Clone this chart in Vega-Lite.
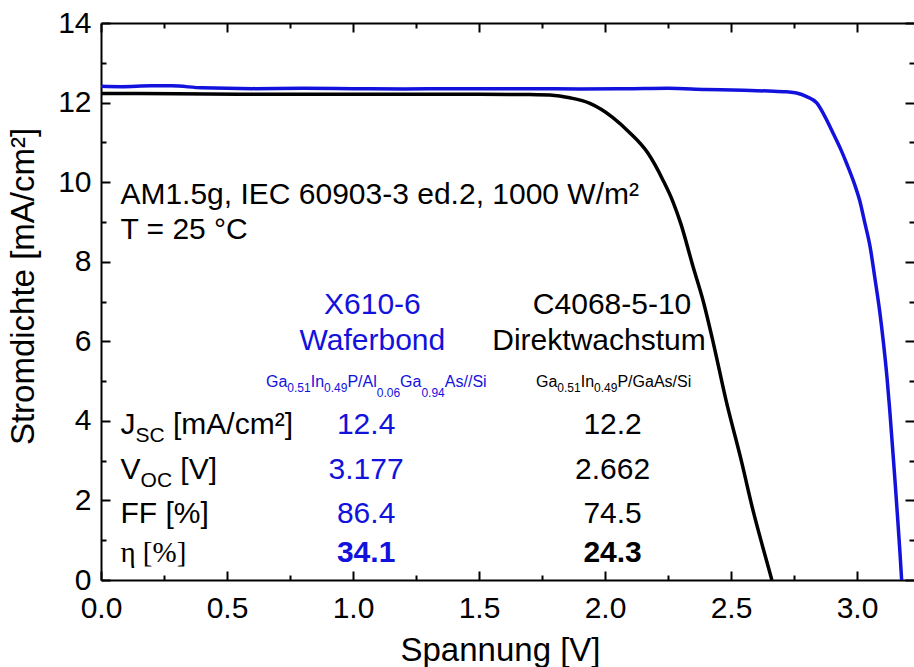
{
  "$schema": "https://vega.github.io/schema/vega-lite/v6.json",
  "width": 813,
  "height": 557,
  "autosize": {"type": "none"},
  "padding": {"left": 101, "top": 23, "right": 0, "bottom": 87},
  "background": "white",
  "config": {
    "view": {"stroke": null},
    "font": "Liberation Sans",
    "axis": {
      "domainColor": "black", "domainWidth": 2, "tickColor": "black", "tickWidth": 2,
      "labelColor": "black", "labelFont": "Liberation Sans", "labelFontSize": 30,
      "titleFont": "Liberation Sans", "titleFontSize": 33, "titleFontWeight": "normal", "titleColor": "black",
      "grid": false, "labelOverlap": false, "labelFlush": false, "labelBound": false
    }
  },
  "resolve": {"axis": {"x": "independent", "y": "independent"}},
  "datasets": {
    "curves": [
      {"sample": "X610-6", "V": 0.00, "J": 12.41},
      {"sample": "X610-6", "V": 0.08, "J": 12.40},
      {"sample": "X610-6", "V": 0.20, "J": 12.42},
      {"sample": "X610-6", "V": 0.28, "J": 12.42},
      {"sample": "X610-6", "V": 0.40, "J": 12.37},
      {"sample": "X610-6", "V": 0.60, "J": 12.35},
      {"sample": "X610-6", "V": 0.80, "J": 12.36},
      {"sample": "X610-6", "V": 1.00, "J": 12.35},
      {"sample": "X610-6", "V": 1.20, "J": 12.34},
      {"sample": "X610-6", "V": 1.40, "J": 12.35},
      {"sample": "X610-6", "V": 1.70, "J": 12.35},
      {"sample": "X610-6", "V": 1.90, "J": 12.34},
      {"sample": "X610-6", "V": 2.10, "J": 12.35},
      {"sample": "X610-6", "V": 2.25, "J": 12.36},
      {"sample": "X610-6", "V": 2.40, "J": 12.33},
      {"sample": "X610-6", "V": 2.55, "J": 12.31},
      {"sample": "X610-6", "V": 2.65, "J": 12.29},
      {"sample": "X610-6", "V": 2.72, "J": 12.27},
      {"sample": "X610-6", "V": 2.76, "J": 12.24},
      {"sample": "X610-6", "V": 2.80, "J": 12.15},
      {"sample": "X610-6", "V": 2.84, "J": 11.99},
      {"sample": "X610-6", "V": 2.87, "J": 11.68},
      {"sample": "X610-6", "V": 2.905, "J": 11.23},
      {"sample": "X610-6", "V": 2.935, "J": 10.83},
      {"sample": "X610-6", "V": 2.96, "J": 10.45},
      {"sample": "X610-6", "V": 2.99, "J": 9.95},
      {"sample": "X610-6", "V": 3.01, "J": 9.55},
      {"sample": "X610-6", "V": 3.03, "J": 9.00},
      {"sample": "X610-6", "V": 3.052, "J": 8.37},
      {"sample": "X610-6", "V": 3.07, "J": 7.62},
      {"sample": "X610-6", "V": 3.09, "J": 6.75},
      {"sample": "X610-6", "V": 3.105, "J": 5.95},
      {"sample": "X610-6", "V": 3.119, "J": 5.08},
      {"sample": "X610-6", "V": 3.13, "J": 4.25},
      {"sample": "X610-6", "V": 3.14, "J": 3.40},
      {"sample": "X610-6", "V": 3.15, "J": 2.55},
      {"sample": "X610-6", "V": 3.16, "J": 1.65},
      {"sample": "X610-6", "V": 3.17, "J": 0.72},
      {"sample": "X610-6", "V": 3.177, "J": 0.00},
      {"sample": "C4068-5-10", "V": 0.00, "J": 12.23},
      {"sample": "C4068-5-10", "V": 0.30, "J": 12.22},
      {"sample": "C4068-5-10", "V": 0.60, "J": 12.21},
      {"sample": "C4068-5-10", "V": 0.90, "J": 12.21},
      {"sample": "C4068-5-10", "V": 1.20, "J": 12.21},
      {"sample": "C4068-5-10", "V": 1.50, "J": 12.21},
      {"sample": "C4068-5-10", "V": 1.70, "J": 12.20},
      {"sample": "C4068-5-10", "V": 1.80, "J": 12.18},
      {"sample": "C4068-5-10", "V": 1.86, "J": 12.12},
      {"sample": "C4068-5-10", "V": 1.94, "J": 11.98},
      {"sample": "C4068-5-10", "V": 2.03, "J": 11.63},
      {"sample": "C4068-5-10", "V": 2.10, "J": 11.23},
      {"sample": "C4068-5-10", "V": 2.17, "J": 10.73},
      {"sample": "C4068-5-10", "V": 2.23, "J": 10.05},
      {"sample": "C4068-5-10", "V": 2.27, "J": 9.50},
      {"sample": "C4068-5-10", "V": 2.30, "J": 8.97},
      {"sample": "C4068-5-10", "V": 2.35, "J": 7.86},
      {"sample": "C4068-5-10", "V": 2.39, "J": 7.00},
      {"sample": "C4068-5-10", "V": 2.43, "J": 5.95},
      {"sample": "C4068-5-10", "V": 2.48, "J": 4.52},
      {"sample": "C4068-5-10", "V": 2.54, "J": 3.02},
      {"sample": "C4068-5-10", "V": 2.59, "J": 1.68},
      {"sample": "C4068-5-10", "V": 2.625, "J": 0.85},
      {"sample": "C4068-5-10", "V": 2.662, "J": 0.00}
    ],
    "notes": [
      {"kind": "L30", "sample": "allgemein", "text": "AM1.5g, IEC 60903-3 ed.2, 1000 W/m²", "V": 0.077, "J": 9.46},
      {"kind": "L30", "sample": "allgemein", "text": "T = 25 °C", "V": 0.077, "J": 8.56},
      {"kind": "L30", "sample": "allgemein", "text": "J", "V": 0.077, "J": 3.67},
      {"kind": "L30", "sample": "allgemein", "text": "[mA/cm²]", "V": 0.2857, "J": 3.67},
      {"kind": "L30", "sample": "allgemein", "text": "V", "V": 0.077, "J": 2.54},
      {"kind": "L30", "sample": "allgemein", "text": "[V]", "V": 0.3147, "J": 2.54},
      {"kind": "L30", "sample": "allgemein", "text": "FF [%]", "V": 0.077, "J": 1.43},
      {"kind": "S21", "sample": "allgemein", "text": "SC", "V": 0.137, "J": 3.67},
      {"kind": "S21", "sample": "allgemein", "text": "OC", "V": 0.157, "J": 2.54},
      {"kind": "ETA", "sample": "allgemein", "text": "η [%]", "V": 0.077, "J": 0.45},
      {"kind": "C30", "sample": "X610-6", "text": "X610-6", "V": 1.077, "J": 6.68},
      {"kind": "C30", "sample": "X610-6", "text": "Waferbond", "V": 1.077, "J": 5.77},
      {"kind": "C30", "sample": "C4068-5-10", "text": "C4068-5-10", "V": 2.028, "J": 6.68},
      {"kind": "C30", "sample": "C4068-5-10", "text": "Direktwachstum", "V": 1.976, "J": 5.77},
      {"kind": "C30", "sample": "X610-6", "text": "12.4", "V": 1.052, "J": 3.67},
      {"kind": "C30", "sample": "X610-6", "text": "3.177", "V": 1.052, "J": 2.54},
      {"kind": "C30", "sample": "X610-6", "text": "86.4", "V": 1.052, "J": 1.43},
      {"kind": "CB30", "sample": "X610-6", "text": "34.1", "V": 1.052, "J": 0.45},
      {"kind": "C30", "sample": "C4068-5-10", "text": "12.2", "V": 2.03, "J": 3.67},
      {"kind": "C30", "sample": "C4068-5-10", "text": "2.662", "V": 2.03, "J": 2.54},
      {"kind": "C30", "sample": "C4068-5-10", "text": "74.5", "V": 2.03, "J": 1.43},
      {"kind": "CB30", "sample": "C4068-5-10", "text": "24.3", "V": 2.03, "J": 0.45},
      {"kind": "F16", "sample": "X610-6", "text": "Ga", "V": 0.6548, "J": 4.85},
      {"kind": "F12a", "sample": "X610-6", "text": "0.51", "V": 0.7393, "J": 4.85},
      {"kind": "F16", "sample": "X610-6", "text": "In", "V": 0.8321, "J": 4.85},
      {"kind": "F12a", "sample": "X610-6", "text": "0.49", "V": 0.8849, "J": 4.85},
      {"kind": "F16", "sample": "X610-6", "text": "P/Al", "V": 0.9778, "J": 4.85},
      {"kind": "F12b", "sample": "X610-6", "text": "0.06", "V": 1.094, "J": 4.85},
      {"kind": "F16", "sample": "X610-6", "text": "Ga", "V": 1.1869, "J": 4.85},
      {"kind": "F12b", "sample": "X610-6", "text": "0.94", "V": 1.2714, "J": 4.85},
      {"kind": "F16", "sample": "X610-6", "text": "As//Si", "V": 1.3643, "J": 4.85},
      {"kind": "F16", "sample": "C4068-5-10", "text": "Ga", "V": 1.7262, "J": 4.85},
      {"kind": "F12a", "sample": "C4068-5-10", "text": "0.51", "V": 1.8107, "J": 4.85},
      {"kind": "F16", "sample": "C4068-5-10", "text": "In", "V": 1.9036, "J": 4.85},
      {"kind": "F12a", "sample": "C4068-5-10", "text": "0.49", "V": 1.9563, "J": 4.85},
      {"kind": "F16", "sample": "C4068-5-10", "text": "P/GaAs/Si", "V": 2.0492, "J": 4.85}
    ]
  },
  "layer": [
    {
      "data": {"name": "curves"},
      "mark": {"type": "line", "strokeWidth": 3.5, "interpolate": "monotone", "clip": true},
      "encoding": {
        "x": {"field": "V", "type": "quantitative", "scale": {"domain": [0, 3.226], "nice": false, "zero": false},
          "axis": {"orient": "bottom", "values": [0, 0.5, 1, 1.5, 2, 2.5, 3], "format": ".1f",
            "tickSize": -9, "labelPadding": 22,
            "title": "Spannung [V]", "titleX": 399, "titleY": 80, "titleBaseline": "alphabetic", "titleAlign": "center", "titleAnchor": null}},
        "y": {"field": "J", "type": "quantitative", "scale": {"domain": [0, 14], "nice": false, "zero": false},
          "axis": {"orient": "left", "values": [0, 2, 4, 6, 8, 10, 12, 14], "format": "d",
            "tickSize": -9, "labelPadding": 19,
            "title": "Stromdichte [mA/cm²]", "titleAngle": -90, "titleX": -68, "titleY": 263, "titleBaseline": "alphabetic", "titleAlign": "center", "titleAnchor": null}},
        "color": {"field": "sample", "type": "nominal", "legend": null,
          "scale": {"domain": ["X610-6", "C4068-5-10", "allgemein"], "range": ["#1212dc", "#000000", "#000000"]}}
      }
    },
    {
      "data": {"name": "notes"},
      "transform": [{"filter": "datum.kind === 'L30'"}],
      "mark": {"type": "text", "align": "left", "baseline": "alphabetic", "fontSize": 30, "font": "Liberation Sans"},
      "encoding": {
        "x": {"field": "V", "type": "quantitative", "scale": {"domain": [0, 3.226], "nice": false, "zero": false},
          "axis": {"orient": "top", "values": [0, 0.5, 1, 1.5, 2, 2.5, 3],
            "labels": false, "title": null, "tickSize": -9}},
        "y": {"field": "J", "type": "quantitative", "scale": {"domain": [0, 14], "nice": false, "zero": false},
          "axis": {"orient": "right", "values": [0, 2, 4, 6, 8, 10, 12, 14],
            "labels": false, "title": null, "domain": false, "tickSize": -9}},
        "text": {"field": "text"},
        "color": {"field": "sample", "type": "nominal", "legend": null}
      }
    },
    {
      "data": {"name": "notes"},
      "transform": [{"filter": "datum.kind === 'S21'"}],
      "mark": {"type": "text", "align": "left", "baseline": "alphabetic", "fontSize": 21, "dy": 8, "font": "Liberation Sans"},
      "encoding": {
        "x": {"field": "V", "type": "quantitative", "scale": {"domain": [0, 3.226], "nice": false, "zero": false},
          "axis": {"orient": "bottom", "values": [0.25, 0.75, 1.25, 1.75, 2.25, 2.75],
            "labels": false, "title": null, "domain": false, "tickSize": -5}},
        "y": {"field": "J", "type": "quantitative", "scale": {"domain": [0, 14], "nice": false, "zero": false},
          "axis": {"orient": "left", "values": [1, 3, 5, 7, 9, 11, 13],
            "labels": false, "title": null, "domain": false, "tickSize": -5}},
        "text": {"field": "text"},
        "color": {"field": "sample", "type": "nominal", "legend": null}
      }
    },
    {
      "data": {"name": "notes"},
      "transform": [{"filter": "datum.kind === 'ETA'"}],
      "mark": {"type": "text", "align": "left", "baseline": "alphabetic", "fontSize": 29, "font": "Liberation Serif"},
      "encoding": {
        "x": {"field": "V", "type": "quantitative", "scale": {"domain": [0, 3.226], "nice": false, "zero": false},
          "axis": {"orient": "top", "values": [0.25, 0.75, 1.25, 1.75, 2.25, 2.75],
            "labels": false, "title": null, "domain": false, "tickSize": -5}},
        "y": {"field": "J", "type": "quantitative", "scale": {"domain": [0, 14], "nice": false, "zero": false},
          "axis": {"orient": "right", "values": [1, 3, 5, 7, 9, 11, 13],
            "labels": false, "title": null, "domain": false, "tickSize": -5}},
        "text": {"field": "text"},
        "color": {"field": "sample", "type": "nominal", "legend": null}
      }
    },
    {
      "data": {"name": "notes"},
      "transform": [{"filter": "datum.kind === 'C30'"}],
      "mark": {"type": "text", "align": "center", "baseline": "alphabetic", "fontSize": 30, "font": "Liberation Sans"},
      "encoding": {
        "x": {"field": "V", "type": "quantitative", "axis": null},
        "y": {"field": "J", "type": "quantitative", "axis": null},
        "text": {"field": "text"},
        "color": {"field": "sample", "type": "nominal", "legend": null}
      }
    },
    {
      "data": {"name": "notes"},
      "transform": [{"filter": "datum.kind === 'CB30'"}],
      "mark": {"type": "text", "align": "center", "baseline": "alphabetic", "fontSize": 30, "fontWeight": "bold", "font": "Liberation Sans"},
      "encoding": {
        "x": {"field": "V", "type": "quantitative", "axis": null},
        "y": {"field": "J", "type": "quantitative", "axis": null},
        "text": {"field": "text"},
        "color": {"field": "sample", "type": "nominal", "legend": null}
      }
    },
    {
      "data": {"name": "notes"},
      "transform": [{"filter": "datum.kind === 'F16'"}],
      "mark": {"type": "text", "align": "left", "baseline": "alphabetic", "fontSize": 16, "font": "Liberation Sans"},
      "encoding": {
        "x": {"field": "V", "type": "quantitative", "axis": null},
        "y": {"field": "J", "type": "quantitative", "axis": null},
        "text": {"field": "text"},
        "color": {"field": "sample", "type": "nominal", "legend": null}
      }
    },
    {
      "data": {"name": "notes"},
      "transform": [{"filter": "datum.kind === 'F12a'"}],
      "mark": {"type": "text", "align": "left", "baseline": "alphabetic", "fontSize": 12, "dy": 5, "font": "Liberation Sans"},
      "encoding": {
        "x": {"field": "V", "type": "quantitative", "axis": null},
        "y": {"field": "J", "type": "quantitative", "axis": null},
        "text": {"field": "text"},
        "color": {"field": "sample", "type": "nominal", "legend": null}
      }
    },
    {
      "data": {"name": "notes"},
      "transform": [{"filter": "datum.kind === 'F12b'"}],
      "mark": {"type": "text", "align": "left", "baseline": "alphabetic", "fontSize": 12, "dy": 10, "font": "Liberation Sans"},
      "encoding": {
        "x": {"field": "V", "type": "quantitative", "axis": null},
        "y": {"field": "J", "type": "quantitative", "axis": null},
        "text": {"field": "text"},
        "color": {"field": "sample", "type": "nominal", "legend": null}
      }
    }
  ]
}
